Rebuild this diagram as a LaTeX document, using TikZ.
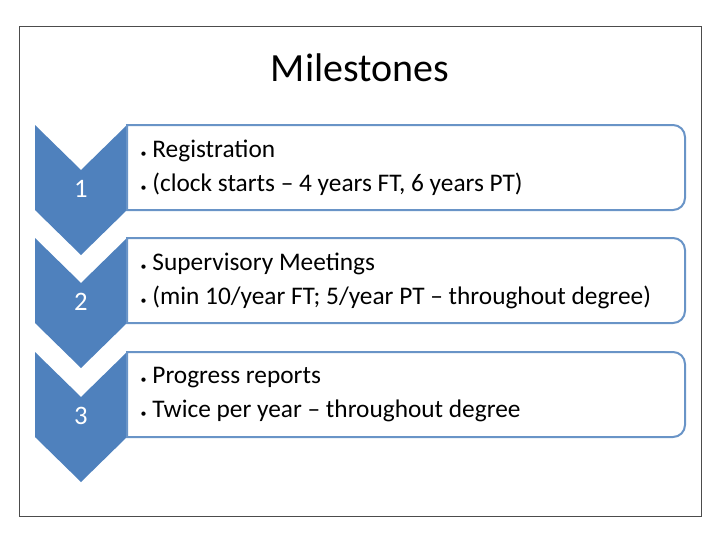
\documentclass[tikz,border=0pt]{standalone}
\usepackage{fontspec}
\setmainfont{Carlito}
\definecolor{acc}{HTML}{4F81BD}
\begin{document}
\begin{tikzpicture}[x=0.75pt,y=-0.75pt,
  chev/.style={fill=acc,draw=none},
  boxs/.style={draw=acc!85,line width=1.5pt,fill=white},
  num/.style={text=white,font=\fontsize{20}{22}\selectfont},
  items/.style={anchor=west,align=left,font=\fontsize{19}{25.5}\selectfont}]
\useasboundingbox (0,0) rectangle (720,540);
\draw[line width=0.6pt,black!70] (19,26) rectangle (701,516);
\node[font=\fontsize{30}{34}\selectfont] (title) at (360,68) {Milestones};
\foreach \i/\t/\a/\b in {1/125/{Registration}/{(clock starts – 4 years FT, 6 years PT)},
  2/238/{Supervisory Meetings}/{(min 10/year FT; 5/year PT – throughout degree)},
  3/352/{Progress reports}/{Twice per year – throughout degree}}{
  \fill[chev] (35,\t) -- (81,\t+45) -- (127,\t) -- (127,\t+85) -- (81,\t+130) -- (35,\t+85) -- cycle;
  \draw[boxs] (127,\t) -- (673,\t) arc[start angle=90,end angle=0,x radius=12,y radius=-12] -- (685,\t+73) arc[start angle=0,end angle=-90,x radius=12,y radius=-12] -- (127,\t+85) -- cycle;
  \node[num] (n\i) at (81,\t+64) {\i};
  \node[items] (t\i) at (136,\t+43) {{\small•} \a\\{\small•} \b};
}
\end{tikzpicture}
\end{document}
